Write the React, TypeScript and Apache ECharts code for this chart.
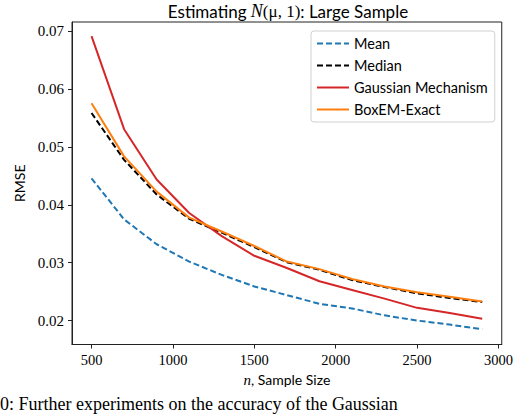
import React, { useEffect, useRef } from "react";
import * as echarts from "echarts";

const nValues = [500, 700, 900, 1100, 1300, 1500, 1700, 1900, 2100, 2300, 2500, 2700, 2900];
const meanRMSE = [0.0446, 0.0375, 0.0332, 0.0302, 0.0279, 0.0259, 0.0244, 0.0229, 0.0221, 0.0209, 0.02, 0.0193, 0.0185];
const medianRMSE = [0.0559, 0.0478, 0.0418, 0.0376, 0.0352, 0.0327, 0.0301, 0.0288, 0.027, 0.0258, 0.0247, 0.0239, 0.0232];
const gaussianRMSE = [0.0692, 0.0531, 0.0444, 0.0386, 0.0346, 0.0312, 0.0291, 0.0268, 0.0253, 0.0238, 0.0222, 0.0213, 0.0203];
const boxemRMSE = [0.0576, 0.0484, 0.0423, 0.0378, 0.0354, 0.0329, 0.0302, 0.0289, 0.0272, 0.0259, 0.0249, 0.0241, 0.0233];

const xTicks = [500, 1000, 1500, 2000, 2500, 3000];
const yTicks = [0.02, 0.03, 0.04, 0.05, 0.06, 0.07];
const seriesNames = ["Mean", "Median", "Gaussian Mechanism", "BoxEM-Exact"];

const SANS = "Lato, 'DejaVu Sans', sans-serif";
const SERIF = "'Liberation Serif', 'DejaVu Serif', serif";

export default function App() {
  const ref = useRef<HTMLDivElement>(null);
  useEffect(() => {
    if (!ref.current) return;
    const chart = echarts.init(ref.current, undefined, { renderer: "svg" });
    const pair = (ys: number[]) => nValues.map((n, i) => [n, ys[i]]);
    const mk = (name: string, ys: number[], color: string, dashed: boolean) => ({
      name,
      type: "line",
      data: pair(ys),
      showSymbol: false,
      symbol: "none",
      lineStyle: { color, width: 2, type: dashed ? [6, 3] : "solid" },
      itemStyle: { color },
    });
    chart.setOption({
      animation: false,
      backgroundColor: "#fff",
      title: {
        text: "Estimating {n|N}{m|(μ, 1)}: Large Sample",
        left: 288,
        top: 2,
        padding: 0,
        textAlign: "center",
        textStyle: {
          fontFamily: SANS,
          fontSize: 17,
          fontWeight: "normal",
          color: "#000",
          rich: {
            n: { fontFamily: SERIF, fontStyle: "italic", fontSize: 18, color: "#000" },
            m: { fontFamily: SERIF, fontSize: 17, color: "#000" },
          },
        },
      },
      legend: {
        orient: "vertical",
        left: 311,
        top: 31,
        data: seriesNames,
        itemWidth: 32,
        itemHeight: 14,
        itemGap: 7,
        itemTextGap: 12,
        padding: [5, 7, 5, 5],
        borderColor: "#d0d0d0",
        borderWidth: 1,
        borderRadius: 3,
        backgroundColor: "rgba(255,255,255,0.8)",
        itemStyle: { opacity: 0 },
        textStyle: { fontFamily: SANS, fontSize: 14.5, color: "#000" },
      },
      grid: {
        left: 72,
        top: 22,
        width: 433,
        height: 322.5,
        show: true,
        borderColor: "#222",
        borderWidth: 1,
        backgroundColor: "transparent",
      },
      xAxis: {
        type: "value",
        min: 380,
        max: 3020,
        name: "{i|n}, Sample Size",
        nameLocation: "middle",
        nameGap: 22,
        nameTextStyle: {
          fontFamily: SANS,
          fontSize: 14,
          color: "#000",
          rich: { i: { fontFamily: SERIF, fontStyle: "italic", fontSize: 15, color: "#000" } },
        },
        axisLine: { show: true, lineStyle: { color: "#222", width: 1 } },
        axisTick: { show: true, length: 4, lineStyle: { color: "#222" }, customValues: xTicks },
        axisLabel: {
          customValues: xTicks,
          margin: 8,
          fontFamily: SERIF,
          fontSize: 14.5,
          color: "#000",
          formatter: (v: number) => String(v),
        },
        splitLine: { show: false },
      },
      yAxis: {
        type: "value",
        min: 0.01586,
        max: 0.07164,
        name: "RMSE",
        nameLocation: "middle",
        nameGap: 36,
        nameRotate: 90,
        nameTextStyle: { fontFamily: SANS, fontSize: 14, color: "#000" },
        axisLine: { show: true, lineStyle: { color: "#222", width: 1 } },
        axisTick: { show: true, length: 4, lineStyle: { color: "#222" }, customValues: yTicks },
        axisLabel: {
          customValues: yTicks,
          margin: 8,
          fontFamily: SERIF,
          fontSize: 15,
          color: "#000",
          formatter: (v: number) => v.toFixed(2),
        },
        splitLine: { show: false },
      },
      graphic: [
        {
          type: "text",
          left: 0,
          top: 395,
          style: {
            text: "0: Further experiments on the accuracy of the Gaussian",
            font: "18px 'Liberation Serif', serif",
            fill: "#000",
          },
        },
      ],
      series: [
        mk(seriesNames[0], meanRMSE, "#1f77b4", true),
        mk(seriesNames[1], medianRMSE, "#000000", true),
        mk(seriesNames[2], gaussianRMSE, "#d62728", false),
        mk(seriesNames[3], boxemRMSE, "#ff7f0e", false),
      ],
    });
    return () => chart.dispose();
  }, []);
  return (
    <div
      ref={ref}
      style={{ position: "fixed", left: 0, top: 0, width: 516, height: 414, background: "#fff" }}
    />
  );
}
